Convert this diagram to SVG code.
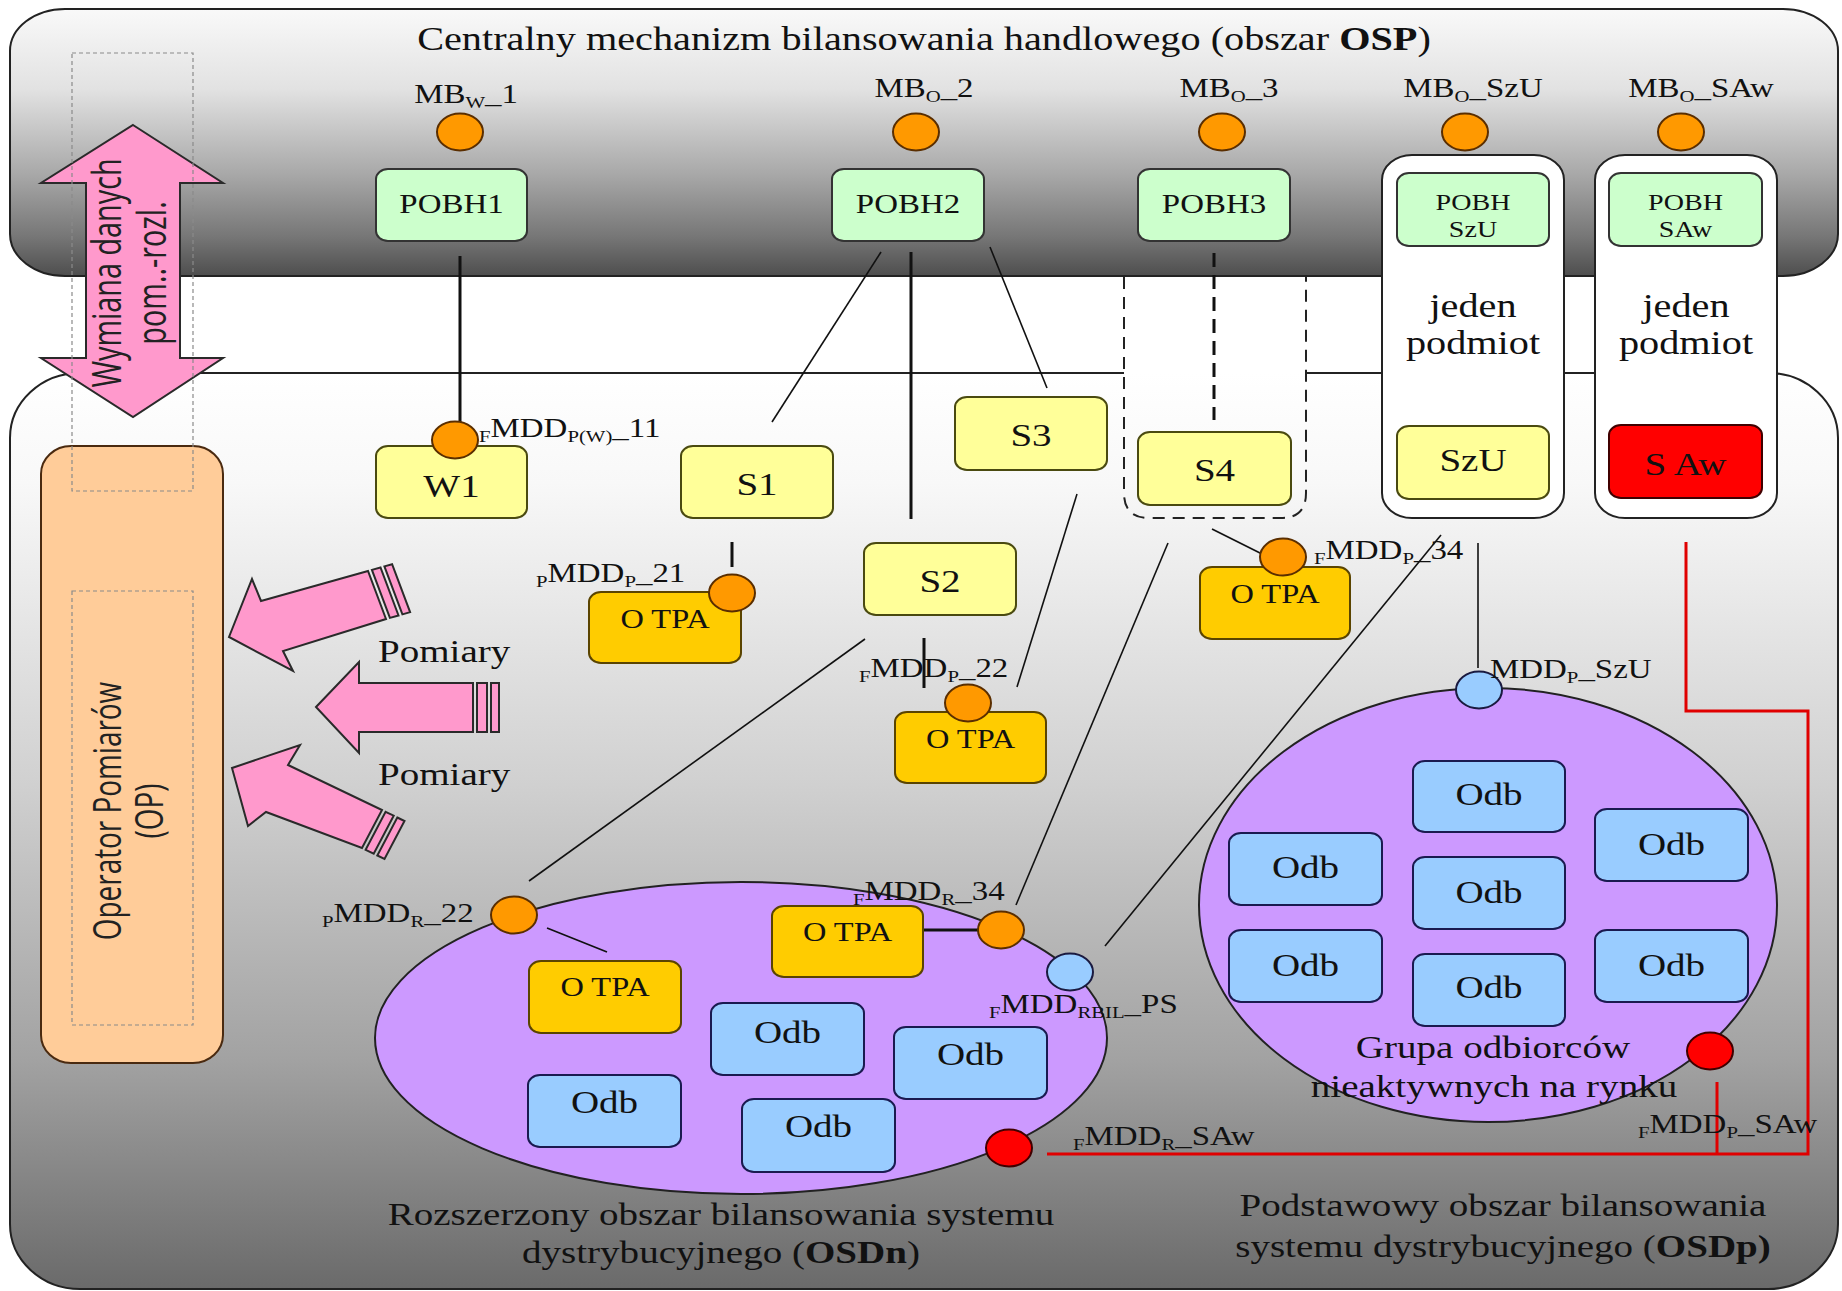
<svg xmlns="http://www.w3.org/2000/svg" width="1842" height="1291" viewBox="0 0 1842 1291">
<defs>
<linearGradient id="gTop" gradientUnits="userSpaceOnUse" x1="0" y1="9" x2="0" y2="276">
<stop offset="0" stop-color="#f9f9f9"/><stop offset="0.3" stop-color="#e2e2e2"/><stop offset="0.62" stop-color="#a8a8a8"/><stop offset="0.85" stop-color="#777777"/><stop offset="1" stop-color="#4e4e4e"/>
</linearGradient>
<linearGradient id="gBot" gradientUnits="userSpaceOnUse" x1="0" y1="373" x2="0" y2="1289">
<stop offset="0" stop-color="#ffffff"/><stop offset="0.12" stop-color="#f8f8f8"/><stop offset="0.45" stop-color="#d0d0d0"/><stop offset="0.75" stop-color="#a2a2a2"/><stop offset="1" stop-color="#6a6a6a"/>
</linearGradient>
<style>
.tx{font-family:"Liberation Serif","Times New Roman",serif;fill:#111}
.sn{font-family:"Open Sans","DejaVu Sans",sans-serif;fill:#222}
.sb{font-size:17px}
.bx{stroke:#333;stroke-width:2}
.pobh{fill:#CCFFCC}
.ys{fill:#FFFF99;stroke:#4a4a10;stroke-width:2}
.ot{fill:#FFCC00;stroke:#5a4400;stroke-width:2}
.odb{fill:#99CCFF;stroke:#1a1a50;stroke-width:2}
.oc{fill:#FF9900;stroke:#5a2e00;stroke-width:2}
.bc{fill:#99CCFF;stroke:#1a1a40;stroke-width:2}
.rc{fill:#FF0000;stroke:#400000;stroke-width:2}
.ln{stroke:#111;stroke-width:1.6;fill:none}
.lt{stroke:#111;stroke-width:3;fill:none}
.rd{stroke:#E00000;stroke-width:3;fill:none}
.pk{fill:#FF99CC;stroke:#2a2a2a;stroke-width:2}
.dt{fill:none;stroke:#8a8a8a;stroke-width:1.2;stroke-dasharray:4 3}
.cont{fill:#ffffff;stroke:#222;stroke-width:2}
.ell{fill:#CC99FF;stroke:#222;stroke-width:2}
</style>
</defs>
<rect width="1842" height="1291" fill="#ffffff"/>

<g id="panel-osp">
<rect x="10" y="9" width="1828" height="267" rx="55" ry="42" fill="url(#gTop)" stroke="#222" stroke-width="2"/>
<text class="tx" font-size="33" text-anchor="middle" transform="translate(924,50) scale(1.22,1)">Centralny mechanizm bilansowania handlowego (obszar <tspan font-weight="bold">OSP</tspan>)</text>
</g>

<g id="panel-osd">
<rect x="10" y="373" width="1828" height="916" rx="70" ry="65" fill="url(#gBot)" stroke="#222" stroke-width="2"/>
<text class="tx" font-size="32" text-anchor="middle" transform="translate(721,1225) scale(1.22,1)">Rozszerzony obszar bilansowania systemu</text>
<text class="tx" font-size="32" text-anchor="middle" transform="translate(721,1263) scale(1.22,1)">dystrybucyjnego (<tspan font-weight="bold">OSDn</tspan>)</text>
<text class="tx" font-size="32" text-anchor="middle" transform="translate(1503,1216) scale(1.22,1)">Podstawowy obszar bilansowania</text>
<text class="tx" font-size="32" text-anchor="middle" transform="translate(1503,1257) scale(1.22,1)">systemu dystrybucyjnego (<tspan font-weight="bold">OSDp)</tspan></text>
</g>

<g id="container-s4">
<path d="M1124,277 L1124,493 Q1124,518 1149,518 L1281,518 Q1306,518 1306,493 L1306,277" fill="url(#gBot)" stroke="#222" stroke-width="2" stroke-dasharray="12 8"/>
</g>
<g id="container-szu">
<rect class="cont" x="1382" y="155" width="182" height="363" rx="30" ry="25"/>
<text class="tx" font-size="33" text-anchor="middle" transform="translate(1473,317) scale(1.22,1)">jeden</text>
<text class="tx" font-size="33" text-anchor="middle" transform="translate(1473,354) scale(1.22,1)">podmiot</text>
</g>
<g id="container-saw">
<rect class="cont" x="1595" y="155" width="182" height="363" rx="30" ry="25"/>
<text class="tx" font-size="33" text-anchor="middle" transform="translate(1686,317) scale(1.22,1)">jeden</text>
<text class="tx" font-size="33" text-anchor="middle" transform="translate(1686,354) scale(1.22,1)">podmiot</text>
</g>

<g id="op">
<rect x="41" y="446" width="182" height="617" rx="30" ry="28" fill="#FFCC99" stroke="#4a2a10" stroke-width="2"/>
<text class="sn" font-size="31" text-anchor="middle" transform="translate(121,811) scale(1.25,0.9) rotate(-90)">Operator Pomiarów</text>
<text class="sn" font-size="31" text-anchor="middle" transform="translate(163,811) scale(1.25,0.9) rotate(-90)">(OP)</text>
</g>

<g id="exchange-arrow">
<polygon class="pk" points="133,125 223,183 180,183 180,358 223,358 133,417 41,358 86,358 86,183 41,183"/>
<text class="sn" font-size="32" text-anchor="middle" transform="translate(121,273) scale(1.25,0.9) rotate(-90)">Wymiana danych</text>
<text class="sn" font-size="32" text-anchor="middle" transform="translate(166,273) scale(1.25,0.9) rotate(-90)">pom..-rozl.</text>
</g>
<g id="dotted-frames">
<rect class="dt" x="72" y="53" width="121" height="438"/>
<rect class="dt" x="72" y="591" width="121" height="434"/>
</g>

<g id="pomiary-arrows">
<polygon class="pk" points="229,637 252,579 261,601 368,571 386,619 283,651 293,671"/>
<polygon class="pk" points="371.9,569.9 380.5,567.5 398.5,615.5 389.9,617.9"/>
<polygon class="pk" points="384.4,566.4 392.1,564.2 410.1,612.2 402.4,614.4"/>
<polygon class="pk" points="316,707 359,662 359,683 473,683 473,732 359,732 359,753"/>
<rect class="pk" x="477" y="683" width="10" height="49"/>
<rect class="pk" x="491" y="683" width="8" height="49"/>
<polygon class="pk" points="232,768 300,745 288,765 382,810 362,848 266,812 248,826"/>
<polygon class="pk" points="385.6,811.8 393.7,815.7 373.7,853.7 365.6,849.8"/>
<polygon class="pk" points="397.3,817.5 404.5,821 384.5,859 377.3,855.5"/>
<text class="tx" font-size="32" transform="translate(378,662) scale(1.22,1)">Pomiary</text>
<text class="tx" font-size="32" transform="translate(378,785) scale(1.22,1)">Pomiary</text>
</g>

<g id="osdn-area"><ellipse class="ell" cx="741" cy="1038" rx="366" ry="156"/></g>
<g id="osdp-area">
<ellipse class="ell" cx="1488" cy="905" rx="289" ry="217"/>
</g>

<g id="connectors">
<line class="lt" x1="460" y1="256" x2="460" y2="424" stroke-width="2.5"/>
<line class="ln" x1="881" y1="252" x2="772" y2="422"/>
<line class="lt" x1="911" y1="252" x2="911" y2="519"/>
<line class="ln" x1="990" y1="247" x2="1047" y2="388"/>
<line class="lt" x1="1214" y1="253" x2="1214" y2="420" stroke-dasharray="14 8"/>
<line class="lt" x1="732" y1="542" x2="732" y2="567"/>
<line class="lt" x1="924" y1="638" x2="924" y2="688" stroke-width="2.5"/>
<line class="ln" x1="1077" y1="494" x2="1017" y2="687"/>
<line class="ln" x1="865" y1="639" x2="529" y2="881"/>
<line class="ln" x1="547" y1="928" x2="607" y2="952" stroke-width="2"/>
<line class="ln" x1="1168" y1="543" x2="1016" y2="905"/>
<line class="ln" x1="1212" y1="529" x2="1262" y2="554"/>
<line class="ln" x1="1441" y1="535" x2="1105" y2="946"/>
<line class="ln" x1="1478" y1="543" x2="1478" y2="668" stroke-width="2"/>
<line class="lt" x1="923" y1="930" x2="987" y2="930"/>
<polyline class="rd" points="1686,542 1686,711 1808,711 1808,1154 1047,1154"/>
<line class="rd" x1="1717" y1="1082" x2="1717" y2="1154"/>
</g>

<g id="mb-points">
<ellipse class="oc" cx="460" cy="132" rx="23" ry="18.5"/>
<ellipse class="oc" cx="916" cy="132" rx="23" ry="18.5"/>
<ellipse class="oc" cx="1222" cy="132" rx="23" ry="18.5"/>
<ellipse class="oc" cx="1465" cy="132" rx="23" ry="18.5"/>
<ellipse class="oc" cx="1681" cy="132" rx="23" ry="18.5"/>
<text class="tx" font-size="27" text-anchor="middle" transform="translate(466,103) scale(1.22,1)">MB<tspan class="sb" dy="5">W</tspan><tspan dy="-5">_1</tspan></text>
<text class="tx" font-size="27" text-anchor="middle" transform="translate(924,97) scale(1.22,1)">MB<tspan class="sb" dy="5">O</tspan><tspan dy="-5">_2</tspan></text>
<text class="tx" font-size="27" text-anchor="middle" transform="translate(1229,97) scale(1.22,1)">MB<tspan class="sb" dy="5">O</tspan><tspan dy="-5">_3</tspan></text>
<text class="tx" font-size="27" text-anchor="middle" transform="translate(1473,97) scale(1.22,1)">MB<tspan class="sb" dy="5">O</tspan><tspan dy="-5">_SzU</tspan></text>
<text class="tx" font-size="27" text-anchor="middle" transform="translate(1701,97) scale(1.22,1)">MB<tspan class="sb" dy="5">O</tspan><tspan dy="-5">_SAw</tspan></text>
</g>

<g id="pobh1"><rect class="bx pobh" x="376" y="169" width="151" height="72" rx="12" ry="10"/><text class="tx" font-size="27" text-anchor="middle" transform="translate(451.5,213) scale(1.22,1)">POBH1</text></g>
<g id="pobh2"><rect class="bx pobh" x="832" y="169" width="152" height="72" rx="12" ry="10"/><text class="tx" font-size="27" text-anchor="middle" transform="translate(908,213) scale(1.22,1)">POBH2</text></g>
<g id="pobh3"><rect class="bx pobh" x="1138" y="169" width="152" height="72" rx="12" ry="10"/><text class="tx" font-size="27" text-anchor="middle" transform="translate(1214,213) scale(1.22,1)">POBH3</text></g>
<g id="pobh-szu"><rect class="bx pobh" x="1397" y="173" width="152" height="73" rx="12" ry="10"/><text class="tx" font-size="23" text-anchor="middle" transform="translate(1473,210) scale(1.22,1)">POBH</text><text class="tx" font-size="23" text-anchor="middle" transform="translate(1473,237) scale(1.22,1)">SzU</text></g>
<g id="pobh-saw"><rect class="bx pobh" x="1609" y="173" width="153" height="73" rx="12" ry="10"/><text class="tx" font-size="23" text-anchor="middle" transform="translate(1685.5,210) scale(1.22,1)">POBH</text><text class="tx" font-size="23" text-anchor="middle" transform="translate(1685.5,237) scale(1.22,1)">SAw</text></g>

<g id="w1"><rect class="ys" x="376" y="446" width="151" height="72" rx="12" ry="10"/><text class="tx" font-size="32" text-anchor="middle" transform="translate(451.5,497) scale(1.22,1)">W1</text></g>
<g id="s1"><rect class="ys" x="681" y="446" width="152" height="72" rx="12" ry="10"/><text class="tx" font-size="32" text-anchor="middle" transform="translate(757,495) scale(1.22,1)">S1</text></g>
<g id="s3"><rect class="ys" x="955" y="397" width="152" height="73" rx="12" ry="10"/><text class="tx" font-size="32" text-anchor="middle" transform="translate(1031,446) scale(1.22,1)">S3</text></g>
<g id="s4"><rect class="ys" x="1138" y="432" width="153" height="73" rx="12" ry="10"/><text class="tx" font-size="32" text-anchor="middle" transform="translate(1214.5,481) scale(1.22,1)">S4</text></g>
<g id="s2"><rect class="ys" x="864" y="543" width="152" height="72" rx="12" ry="10"/><text class="tx" font-size="32" text-anchor="middle" transform="translate(940,592) scale(1.22,1)">S2</text></g>
<g id="szu"><rect class="ys" x="1397" y="426" width="152" height="73" rx="12" ry="10"/><text class="tx" font-size="32" text-anchor="middle" transform="translate(1473,471) scale(1.22,1)">SzU</text></g>
<g id="saw"><rect x="1609" y="425" width="153" height="73" rx="12" ry="10" fill="#FF0000" stroke="#400000" stroke-width="2"/><text class="tx" font-size="32" text-anchor="middle" fill="#300000" transform="translate(1685.5,475) scale(1.22,1)">S Aw</text></g>

<g id="otpa-21"><rect class="ot" x="589" y="592" width="152" height="71" rx="12" ry="10"/><text class="tx" font-size="27" text-anchor="middle" transform="translate(665,628) scale(1.2,1)">O TPA</text></g>
<g id="otpa-22"><rect class="ot" x="895" y="712" width="151" height="71" rx="12" ry="10"/><text class="tx" font-size="27" text-anchor="middle" transform="translate(970.5,748) scale(1.2,1)">O TPA</text></g>
<g id="otpa-34"><rect class="ot" x="1200" y="567" width="150" height="72" rx="12" ry="10"/><text class="tx" font-size="27" text-anchor="middle" transform="translate(1275,603) scale(1.2,1)">O TPA</text></g>
<g id="otpa-r34"><rect class="ot" x="772" y="906" width="151" height="71" rx="12" ry="10"/><text class="tx" font-size="27" text-anchor="middle" transform="translate(847.5,941) scale(1.2,1)">O TPA</text></g>
<g id="otpa-r22"><rect class="ot" x="529" y="961" width="152" height="72" rx="12" ry="10"/><text class="tx" font-size="27" text-anchor="middle" transform="translate(605,996) scale(1.2,1)">O TPA</text></g>

<g id="odb-n1"><rect class="odb" x="711" y="1003" width="153" height="72" rx="12" ry="10"/><text class="tx" font-size="32" text-anchor="middle" fill="#101030" transform="translate(787.5,1043) scale(1.22,1)">Odb</text></g>
<g id="odb-n2"><rect class="odb" x="894" y="1027" width="153" height="72" rx="12" ry="10"/><text class="tx" font-size="32" text-anchor="middle" fill="#101030" transform="translate(970.5,1065) scale(1.22,1)">Odb</text></g>
<g id="odb-n3"><rect class="odb" x="528" y="1075" width="153" height="72" rx="12" ry="10"/><text class="tx" font-size="32" text-anchor="middle" fill="#101030" transform="translate(604.5,1113) scale(1.22,1)">Odb</text></g>
<g id="odb-n4"><rect class="odb" x="742" y="1099" width="153" height="73" rx="12" ry="10"/><text class="tx" font-size="32" text-anchor="middle" fill="#101030" transform="translate(818.5,1137) scale(1.22,1)">Odb</text></g>

<g id="odb-p1"><rect class="odb" x="1413" y="761" width="152" height="71" rx="12" ry="10"/><text class="tx" font-size="32" text-anchor="middle" fill="#101030" transform="translate(1489,805) scale(1.22,1)">Odb</text></g>
<g id="odb-p2"><rect class="odb" x="1595" y="809" width="153" height="72" rx="12" ry="10"/><text class="tx" font-size="32" text-anchor="middle" fill="#101030" transform="translate(1671.5,855) scale(1.22,1)">Odb</text></g>
<g id="odb-p3"><rect class="odb" x="1229" y="833" width="153" height="72" rx="12" ry="10"/><text class="tx" font-size="32" text-anchor="middle" fill="#101030" transform="translate(1305.5,878) scale(1.22,1)">Odb</text></g>
<g id="odb-p4"><rect class="odb" x="1413" y="857" width="152" height="72" rx="12" ry="10"/><text class="tx" font-size="32" text-anchor="middle" fill="#101030" transform="translate(1489,903) scale(1.22,1)">Odb</text></g>
<g id="odb-p5"><rect class="odb" x="1229" y="930" width="153" height="72" rx="12" ry="10"/><text class="tx" font-size="32" text-anchor="middle" fill="#101030" transform="translate(1305.5,976) scale(1.22,1)">Odb</text></g>
<g id="odb-p6"><rect class="odb" x="1413" y="954" width="152" height="72" rx="12" ry="10"/><text class="tx" font-size="32" text-anchor="middle" fill="#101030" transform="translate(1489,998) scale(1.22,1)">Odb</text></g>
<g id="odb-p7"><rect class="odb" x="1595" y="930" width="153" height="72" rx="12" ry="10"/><text class="tx" font-size="32" text-anchor="middle" fill="#101030" transform="translate(1671.5,976) scale(1.22,1)">Odb</text></g>

<g id="osdp-label">
<text class="tx" font-size="32" text-anchor="middle" fill="#201838" transform="translate(1493,1058) scale(1.22,1)">Grupa odbiorców</text>
<text class="tx" font-size="32" text-anchor="middle" fill="#201838" transform="translate(1494,1097) scale(1.22,1)">nieaktywnych na rynku</text>
</g>

<g id="mdd-points">
<ellipse class="oc" cx="455" cy="440" rx="23" ry="18.5"/>
<ellipse class="oc" cx="732" cy="593" rx="23" ry="18.5"/>
<ellipse class="oc" cx="968" cy="703" rx="23" ry="18.5"/>
<ellipse class="oc" cx="1283" cy="557" rx="23" ry="18.5"/>
<ellipse class="oc" cx="514" cy="915" rx="23" ry="18.5"/>
<ellipse class="oc" cx="1001" cy="930" rx="23" ry="18.5"/>
<ellipse class="bc" cx="1479" cy="690" rx="23" ry="18.5"/>
<ellipse class="bc" cx="1070" cy="972" rx="23" ry="18.5"/>
<ellipse class="rc" cx="1710" cy="1051" rx="23" ry="18.5"/>
<ellipse class="rc" cx="1009" cy="1148" rx="23" ry="18.5"/>
</g>

<g id="mdd-labels">
<text class="tx" font-size="27" transform="translate(479,437) scale(1.22,1)"><tspan class="sb" dy="5">F</tspan><tspan dy="-5">MDD</tspan><tspan class="sb" dy="5">P(W)</tspan><tspan dy="-5">_11</tspan></text>
<text class="tx" font-size="27" transform="translate(536,582) scale(1.22,1)"><tspan class="sb" dy="5">P</tspan><tspan dy="-5">MDD</tspan><tspan class="sb" dy="5">P</tspan><tspan dy="-5">_21</tspan></text>
<text class="tx" font-size="27" transform="translate(859,677) scale(1.22,1)"><tspan class="sb" dy="5">F</tspan><tspan dy="-5">MDD</tspan><tspan class="sb" dy="5">P</tspan><tspan dy="-5">_22</tspan></text>
<text class="tx" font-size="27" transform="translate(1314,559) scale(1.22,1)"><tspan class="sb" dy="5">F</tspan><tspan dy="-5">MDD</tspan><tspan class="sb" dy="5">P</tspan><tspan dy="-5">_34</tspan></text>
<text class="tx" font-size="27" transform="translate(1490,678) scale(1.22,1)">MDD<tspan class="sb" dy="5">P</tspan><tspan dy="-5">_SzU</tspan></text>
<text class="tx" font-size="27" transform="translate(322,922) scale(1.22,1)"><tspan class="sb" dy="5">P</tspan><tspan dy="-5">MDD</tspan><tspan class="sb" dy="5">R</tspan><tspan dy="-5">_22</tspan></text>
<text class="tx" font-size="27" transform="translate(853,900) scale(1.22,1)"><tspan class="sb" dy="5">F</tspan><tspan dy="-5">MDD</tspan><tspan class="sb" dy="5">R</tspan><tspan dy="-5">_34</tspan></text>
<text class="tx" font-size="27" transform="translate(989,1013) scale(1.22,1)"><tspan class="sb" dy="5">F</tspan><tspan dy="-5">MDD</tspan><tspan class="sb" dy="5">RBIL</tspan><tspan dy="-5">_PS</tspan></text>
<text class="tx" font-size="27" transform="translate(1073,1145) scale(1.22,1)"><tspan class="sb" dy="5">F</tspan><tspan dy="-5">MDD</tspan><tspan class="sb" dy="5">R</tspan><tspan dy="-5">_SAw</tspan></text>
<text class="tx" font-size="27" transform="translate(1638,1133) scale(1.22,1)"><tspan class="sb" dy="5">F</tspan><tspan dy="-5">MDD</tspan><tspan class="sb" dy="5">P</tspan><tspan dy="-5">_SAw</tspan></text>
</g>
</svg>
